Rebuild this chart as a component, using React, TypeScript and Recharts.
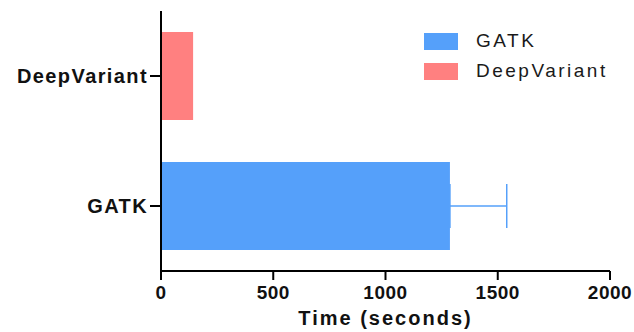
import { BarChart, Bar, XAxis, YAxis, Legend, ErrorBar, Cell } from "recharts";

const tools = ["DeepVariant", "GATK"];
const times = [143, 1287];
const errors: ([number, number] | null)[] = [null, [0, 253]];
const colors = ["#FF8080", "#55A0FA"];
const timeTicks = [0, 500, 1000, 1500, 2000];
const legendItems = [
  { name: "GATK", color: "#55A0FA" },
  { name: "DeepVariant", color: "#FF8080" },
];

const data = tools.map((name, i) => ({ name, time: times[i], err: errors[i] }));

const font = '"Liberation Sans", Arial, sans-serif';

function LegendBox() {
  return (
    <div style={{ fontFamily: font }}>
      {legendItems.map((it) => (
        <div
          key={it.name}
          style={{ display: "flex", alignItems: "center", height: 30 }}
        >
          <span
            style={{
              display: "inline-block",
              width: 34,
              height: 17,
              background: it.color,
            }}
          />
          <span
            style={{
              marginLeft: 18,
              fontSize: 19,
              letterSpacing: 2.5,
              color: "#1a1a1a",
            }}
          >
            {it.name}
          </span>
        </div>
      ))}
    </div>
  );
}

export default function App() {
  return (
    <div style={{ position: "absolute", left: 0, top: 0, background: "#fff" }}>
      <BarChart
        width={634}
        height={332}
        data={data}
        layout="vertical"
        margin={{ top: 11, right: 24, bottom: 0, left: 0 }}
      >
        <XAxis
          type="number"
          domain={[0, 2000]}
          ticks={timeTicks}
          height={61}
          tickSize={9}
          tickMargin={6}
          axisLine={{ stroke: "#000", strokeWidth: 2 }}
          tickLine={{ stroke: "#000", strokeWidth: 2 }}
          tick={{
            fill: "#111",
            fontSize: 19,
            fontWeight: "bold",
            fontFamily: font,
            letterSpacing: 0.5,
          }}
          label={{
            value: "Time (seconds)",
            position: "insideBottom",
            offset: 7,
            fill: "#111",
            fontSize: 20,
            fontWeight: "bold",
            fontFamily: font,
            letterSpacing: 2,
          }}
        />
        <YAxis
          type="category"
          dataKey="name"
          width={161}
          tickSize={11}
          tickMargin={2}
          axisLine={{ stroke: "#000", strokeWidth: 2 }}
          tickLine={{ stroke: "#000", strokeWidth: 2 }}
          tick={{
            fill: "#111",
            fontSize: 20,
            fontWeight: "bold",
            fontFamily: font,
            letterSpacing: 1.4,
          }}
        />
        <Legend
          layout="vertical"
          align="center"
          verticalAlign="middle"
          content={() => <LegendBox />}
          wrapperStyle={{ left: 424, top: 26, width: 200 }}
        />
        <Bar dataKey="time" barSize={88} isAnimationActive={false}>
          {data.map((d, i) => (
            <Cell key={d.name} fill={colors[i]} />
          ))}
          <ErrorBar
            dataKey="err"
            direction="x"
            width={22}
            stroke="#55A0FA"
            strokeWidth={1.5}
          />
        </Bar>
      </BarChart>
    </div>
  );
}
